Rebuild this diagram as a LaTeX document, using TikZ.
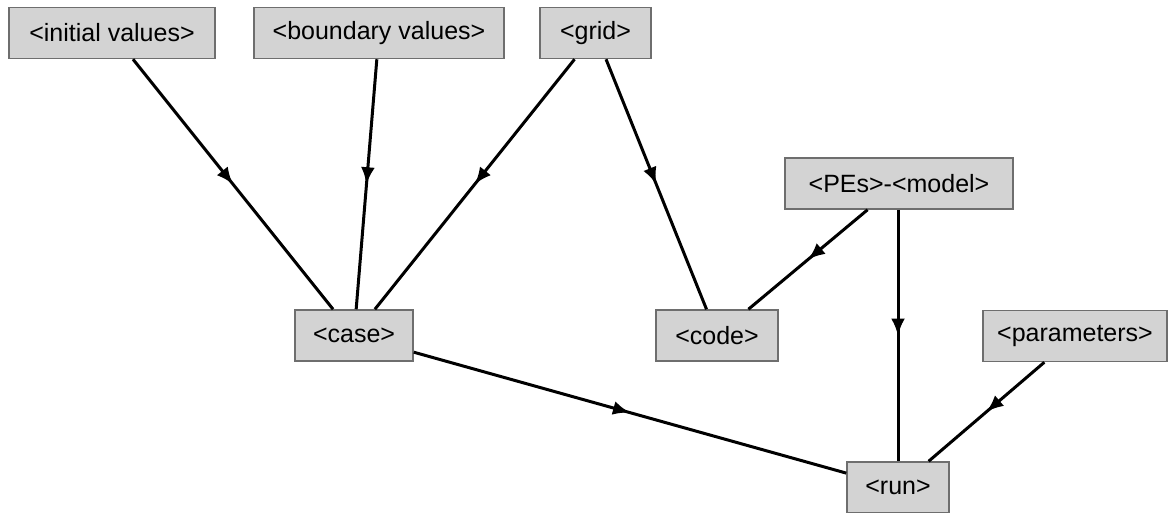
\documentclass[tikz,border=0pt]{standalone}
\usepackage{fontspec}
\setmainfont{Liberation Sans}
\usetikzlibrary{arrows.meta,decorations.markings}
\definecolor{boxfill}{HTML}{D3D3D3}
\definecolor{boxline}{HTML}{6E6E6E}
\begin{document}
\begin{tikzpicture}[x=1pt,y=-1pt,
  box/.style={draw=boxline, line width=1.5pt, fill=boxfill, inner sep=0pt,
    minimum height=51pt, font=\fontsize{25}{29}\selectfont},
  edge/.style={line width=3pt, postaction={decorate},
    decoration={markings, mark=at position 0.5 with {\arrow{Latex[length=17pt,width=14pt]}}}}]
\useasboundingbox[fill=white] (0,0) rectangle (1169,512);
\node[box, minimum width=206pt] (init) at (112,33) {<initial values>};
\node[box, minimum width=250pt] (bound) at (379,33) {<boundary values>};
\node[box, minimum width=111pt] (grid) at (595.5,33) {<grid>};
\node[box, minimum width=228pt] (pes) at (899,183.5) {<PEs>-<model>};
\node[box, minimum width=118pt] (case) at (354,335.5) {<case>};
\node[box, minimum width=122pt] (code) at (717,335.5) {<code>};
\node[box, minimum width=184pt] (params) at (1075,336) {<parameters>};
\node[box, minimum width=102pt] (run) at (898,487.5) {<run>};
\draw[edge] (init) -- (case);
\draw[edge] (bound) -- (case);
\draw[edge] (grid) -- (case);
\draw[edge] (grid) -- (code);
\draw[edge] (pes) -- (code);
\draw[edge] (pes.south -| run.north) -- (run);
\draw[edge] (case) -- (run);
\draw[edge] (params) -- (run);
\end{tikzpicture}
\end{document}
